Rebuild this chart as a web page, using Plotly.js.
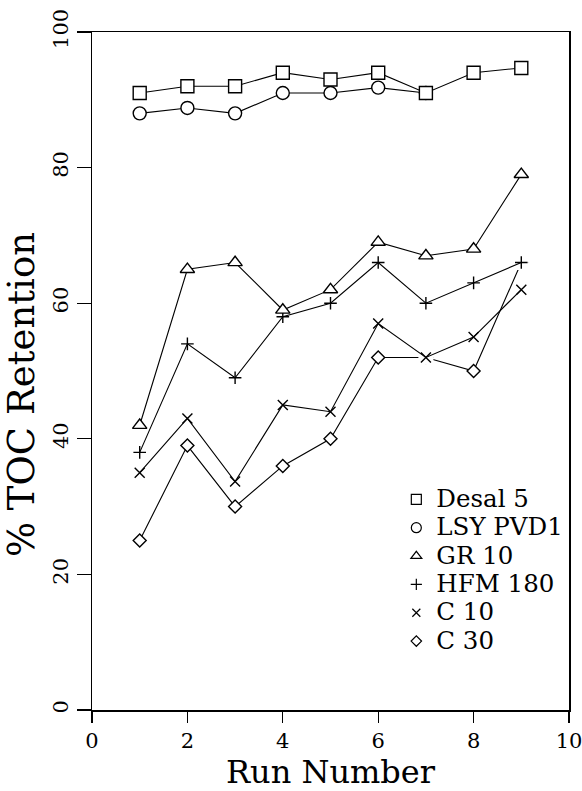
<!DOCTYPE html>
<html>
<head>
<meta charset="utf-8">
<script src="https://cdn.plot.ly/plotly-3.0.1.min.js"></script>
<style>html,body{margin:0;padding:0;background:#fff;}#chart{width:582px;height:791px;}</style>
</head>
<body>
<div id="chart"></div>
<script>
const runs = [1, 2, 3, 4, 5, 6, 7, 8, 9];
const seriesNames = ["Desal 5", "LSY PVD1", "GR 10", "HFM 180", "C 10", "C 30"];
const desal5 = [91, 92, 92, 94, 93, 94, 91, 94, 94.7];
const lsyPvd1 = [88, 88.8, 88, 91, 91, 91.8, 91];
const gr10 = [42, 65, 66, 59, 62, 69, 67, 68, 79];
const hfm180 = [38, 54, 49, 58, 60, 66, 60, 63, 66];
const c10 = [35, 43, 33.7, 45, 44, 57, 52, 55, 62];
const c30 = [25, 39, 30, 36, 40, 52, 52, 50, 66];
const xTicks = [0, 2, 4, 6, 8, 10];
const yTicks = [0, 20, 40, 60, 80, 100];

const seriesData = [desal5, lsyPvd1, gr10, hfm180, c10, c30];
const symbols = ["square", "circle", "triangle-up", "cross-thin", "x-thin", "diamond"];
const sizes = [13, 13, 12.5, 9, 10, 10];
const legSizes = [10, 10, 9.5, 8, 8, 8];
const needsHalo = [false, false, false, true, true, false];

const FONT = "DejaVu Serif, Liberation Serif, serif";
const traces = [];
// draw the last series first so that the first series sits on top
for (let i = seriesData.length - 1; i >= 0; i--) {
  const vals = seriesData[i];
  const xs = runs.slice(0, vals.length);
  if (needsHalo[i]) {
    traces.push({
      x: xs, y: vals, mode: "markers", type: "scatter", showlegend: false,
      hoverinfo: "skip",
      marker: {symbol: "square", size: 15, color: "#fff", line: {width: 0}},
      cliponaxis: false
    });
  }
  traces.push({
    x: xs, y: vals, mode: "lines+markers", type: "scatter",
    name: seriesNames[i], showlegend: false,
    line: {color: "#000", width: 1.1},
    marker: {symbol: symbols[i], size: sizes[i], color: "#fff",
             line: {color: "#000", width: 1.4}},
    cliponaxis: false
  });
}
seriesData.forEach((vals, i) => {
  traces.push({
    x: [null], y: [null], mode: "markers", type: "scatter",
    name: '<span style="font-size:24.5px">' + seriesNames[i] + '</span>',
    showlegend: true,
    marker: {symbol: symbols[i], size: legSizes[i], color: "#fff",
             line: {color: "#000", width: 1.2}}
  });
});

const layout = {
  width: 582, height: 791,
  margin: {l: 92, r: 13, t: 32, b: 81},
  paper_bgcolor: "#fff", plot_bgcolor: "#fff",
  font: {family: FONT, color: "#000", size: 21},
  showlegend: true,
  legend: {x: 0.638, y: 0.339, xanchor: "left", yanchor: "top",
           bgcolor: "rgba(0,0,0,0)", borderwidth: 0,
           font: {family: FONT, size: 19.5, color: "#000"},
           tracegroupgap: 0, itemwidth: 30, traceorder: "normal"},
  xaxis: {
    range: [0, 10], tickvals: xTicks, ticktext: xTicks.map(String),
    showgrid: false, zeroline: false, showline: true, mirror: true,
    linecolor: "#000", linewidth: 1.5, automargin: false,
    ticks: "outside", ticklen: 11, tickwidth: 1.3, tickcolor: "#000",
    ticklabeloverflow: "allow",
    tickfont: {family: FONT, size: 21},
    title: {text: "Run Number", font: {family: FONT, size: 32}, standoff: 8}
  },
  yaxis: {
    range: [0, 100], tickvals: yTicks, ticktext: yTicks.map(String),
    showgrid: false, zeroline: false, showline: true, mirror: true,
    linecolor: "#000", linewidth: 1.5, automargin: false,
    ticks: "outside", ticklen: 14, tickwidth: 1.3, tickcolor: "#000",
    tickangle: -90, ticklabeloverflow: "allow",
    tickfont: {family: FONT, size: 21},
    title: {text: "% TOC Retention&nbsp;&nbsp;&nbsp;&nbsp;", font: {family: FONT, size: 37}, standoff: 4}
  }
};

Plotly.newPlot("chart", traces, layout, {displayModeBar: false, staticPlot: true});
</script>
</body>
</html>
